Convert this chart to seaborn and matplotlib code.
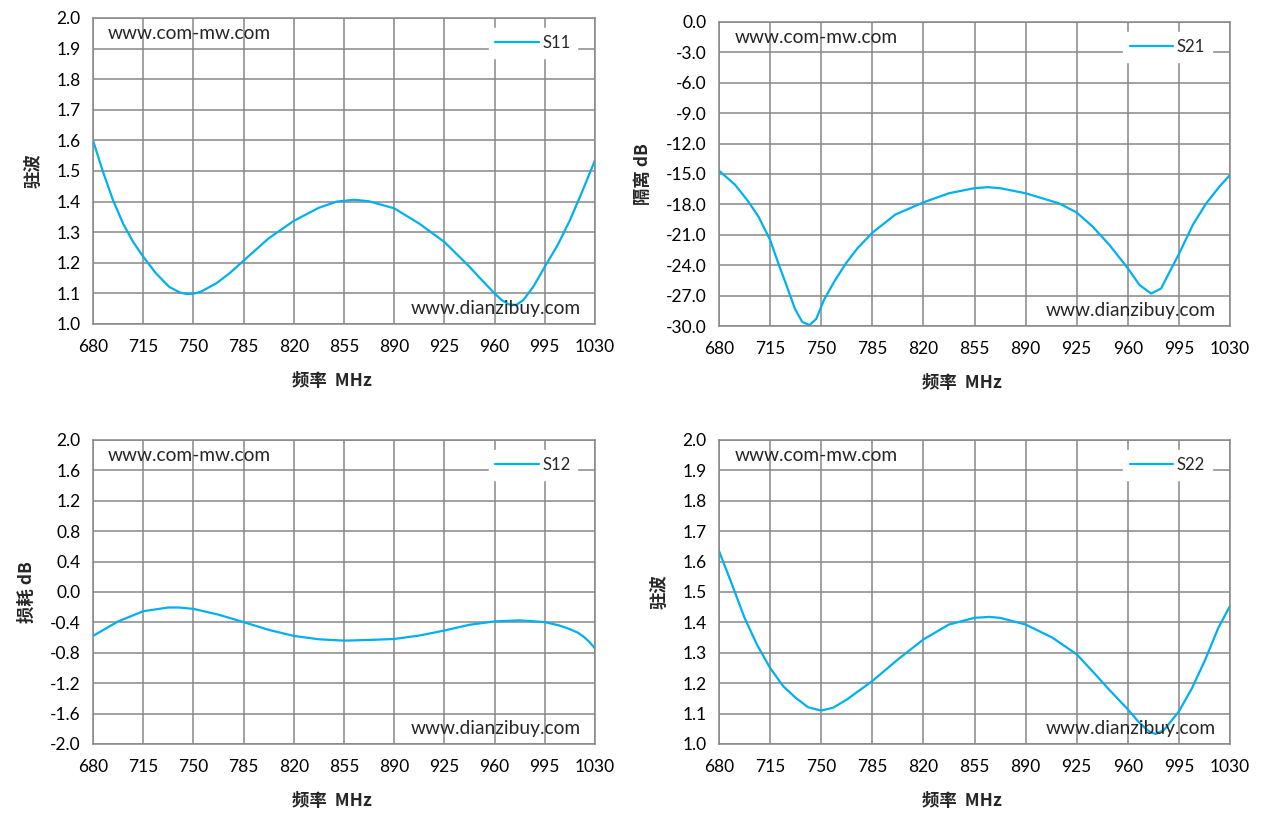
import numpy as np
import pandas as pd
import matplotlib
matplotlib.use("Agg")
import matplotlib.pyplot as plt
from matplotlib.ticker import FormatStrFormatter
import seaborn as sns

# values
freq_s11 = [680, 687, 694, 701, 708, 715, 724, 733, 740, 745, 750, 755, 766, 775, 785, 802.5, 820,
            837.5, 850, 862, 872.5, 890, 907.5, 925, 942.5, 950, 960, 965, 970, 975, 980, 987, 995,
            1004, 1012.5, 1021, 1030]
vswr_s11 = [1.600, 1.497, 1.404, 1.328, 1.268, 1.220, 1.165, 1.122, 1.104, 1.098, 1.099, 1.105, 1.133,
            1.165, 1.207, 1.280, 1.337, 1.380, 1.400, 1.406, 1.401, 1.378, 1.328, 1.268, 1.187, 1.149,
            1.100, 1.078, 1.064, 1.062, 1.078, 1.122, 1.187, 1.258, 1.339, 1.432, 1.535]

freq_s21 = [680, 691, 700, 707, 715, 720.6, 726.5, 732, 737, 742, 746.6, 752, 759, 767, 775, 785, 800.8,
            820, 837.5, 855, 864, 872.5, 890, 913, 925, 936, 947.4, 960, 968, 976, 982.8, 988.5, 995,
            1004.6, 1013.7, 1023, 1030]
iso_s21 = [-14.67, -16.06, -17.7, -19.2, -21.5, -23.8, -26.1, -28.3, -29.6, -29.9, -29.3, -27.4, -25.6,
           -23.8, -22.3, -20.8, -19.0, -17.8, -16.9, -16.4, -16.3, -16.4, -16.9, -17.9, -18.8, -20.2,
           -22.0, -24.3, -25.95, -26.8, -26.3, -24.7, -22.9, -20.0, -17.9, -16.2, -15.1]

freq_s12 = [680, 697.5, 715, 732.5, 740, 750, 767.5, 785, 802.5, 820, 837.5, 855, 872.5,
            890, 907.5, 925, 942.5, 960, 977.5, 995, 1005, 1012.5, 1018, 1022, 1026, 1030]
loss_s12 = [-0.578, -0.387, -0.253, -0.204, -0.204, -0.222, -0.298, -0.396, -0.498, -0.578, -0.622, -0.640,
            -0.631, -0.618, -0.573, -0.507, -0.431, -0.387, -0.373, -0.396, -0.440, -0.489, -0.535, -0.587,
            -0.655, -0.742]

freq_s22 = [680, 688, 697.5, 706, 715, 724, 732.5, 741, 750, 758, 767.5, 785, 802.5, 820, 837.5, 855,
            865, 872.5, 890, 908.3, 925, 935.7, 947, 960, 967.5, 974.4, 979, 984.6, 995, 1004, 1013,
            1022, 1030]
vswr_s22 = [1.635, 1.536, 1.415, 1.327, 1.250, 1.190, 1.152, 1.121, 1.110, 1.119, 1.146, 1.207, 1.278,
            1.344, 1.393, 1.415, 1.418, 1.415, 1.393, 1.350, 1.295, 1.240, 1.180, 1.114, 1.072, 1.042,
            1.033, 1.045, 1.107, 1.184, 1.277, 1.382, 1.454]

x_ticks = [680, 715, 750, 785, 820, 855, 890, 925, 960, 995, 1030]

sns.set_style("white")
plt.rcParams['font.family'] = ['Lato', 'Noto Sans CJK SC', 'DejaVu Sans']
plt.rcParams['axes.unicode_minus'] = False

LINE = "#00B0F0"
GRID = "#878787"
CJK = ['Noto Sans CJK SC', 'DejaVu Sans']

fig = plt.figure(figsize=(12.64, 8.32), dpi=100)
W, H = 1264, 832


def make_ax(left, top, right, bottom):
    return fig.add_axes([left / W, 1 - bottom / H, (right - left) / W, (bottom - top) / H])


panels = [
    (make_ax(93, 18, 595, 324), freq_s11, vswr_s11, "S11", (1.0, 2.0), 0.1, "驻波"),
    (make_ax(719, 22, 1230, 326), freq_s21, iso_s21, "S21", (-30.0, 0.0), 3.0, "隔离 dB"),
    (make_ax(93, 440, 595, 744), freq_s12, loss_s12, "S12", (-2.0, 2.0), 0.4, "损耗 dB"),
    (make_ax(719, 440, 1230, 744), freq_s22, vswr_s22, "S22", (1.0, 2.0), 0.1, "驻波"),
]

for ax, fx, fy, name, ylim, ystep, ylabel in panels:
    df = pd.DataFrame({"freq": fx, "val": fy, "name": name})
    sns.lineplot(data=df, x="freq", y="val", hue="name", palette=[LINE],
                 linewidth=1.6, ax=ax, legend=True)
    ax.set_xlim(680, 1030)
    ax.set_ylim(*ylim)
    ax.set_xticks(x_ticks)
    yt = np.round(np.arange(ylim[0], ylim[1] + ystep / 2, ystep), 1) + 0.0
    ax.set_yticks(yt)
    ax.yaxis.set_major_formatter(FormatStrFormatter('%.1f'))
    ax.grid(True, color=GRID, linewidth=1.1)
    ax.set_axisbelow(True)
    for sp in ax.spines.values():
        sp.set_color(GRID)
        sp.set_linewidth(1.1)
    ax.tick_params(axis='both', length=5, width=1.1, color=GRID, labelsize=12.5,
                   labelcolor="black", pad=4, direction='out')
    ax.tick_params(axis='x', pad=6)
    ax.set_xlabel("频率  MHz", family=CJK, fontweight='bold', fontsize=12.5)
    ax.xaxis.set_label_coords(0.476, -0.157)
    ax.set_ylabel(ylabel, family=CJK, fontweight='bold', fontsize=12.5, labelpad=10)
    ax.legend(loc='upper right', bbox_to_anchor=(0.964, 0.966), borderaxespad=0,
              frameon=True, framealpha=1, edgecolor='white', fancybox=False,
              fontsize=12, handlelength=2.6, handletextpad=0.2)
    ax.text(0.03, 0.95, "www.com-mw.com", transform=ax.transAxes, fontsize=13.8,
            ha='left', va='center')
    ax.text(0.972, 0.05, "www.dianzibuy.com", transform=ax.transAxes, fontsize=13.8,
            ha='right', va='center')

fig.savefig("out.png", dpi=100)
